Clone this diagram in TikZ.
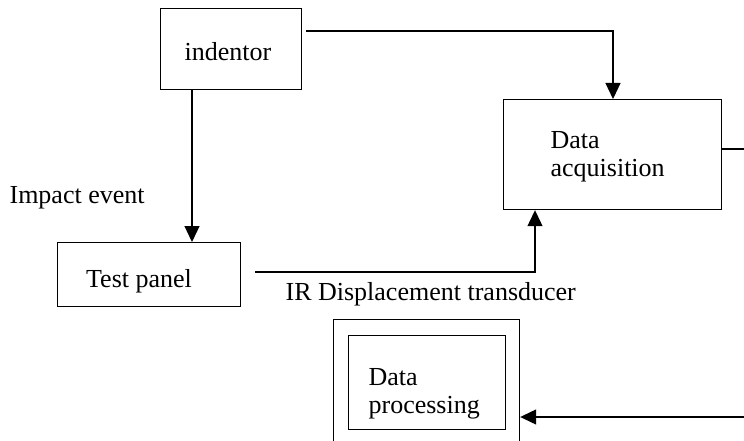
\documentclass[tikz,border=0pt]{standalone}
\usepackage{fontspec}
\setmainfont{Liberation Serif}
\usetikzlibrary{arrows.meta}
\begin{document}
\begin{tikzpicture}[x=1pt,y=-1pt,
  line width=1.2pt,
  box/.style={draw, line width=1.2pt, inner sep=0pt, anchor=north west},
  lbl/.style={font=\fontsize{26}{28}\selectfont, inner sep=0pt},
  arr/.style={-{Triangle[length=16pt,width=15pt]}}]
\useasboundingbox (0,0) rectangle (744,441);
\begin{scope}
\clip (0,0) rectangle (744,441);
% boxes
\node[box, minimum width=141pt, minimum height=81pt] (ind) at (160,8) {};
\node[lbl] at (228,52) {indentor};
\node[box, minimum width=218pt, minimum height=110pt] (acq) at (503,99) {};
\node[lbl, anchor=west, align=left] at (550,157) {Data\\acquisition};
\node[box, minimum width=183pt, minimum height=64pt] (panel) at (57,242) {};
\node[lbl] at (139,281) {Test panel};
\node[box, minimum width=186pt, minimum height=140pt] (outer) at (333,319) {};
\node[box, minimum width=157pt, minimum height=94pt] (inner) at (348,335) {};
\node[lbl, anchor=west, align=left] at (368,394) {Data\\processing};
% free labels
\node[lbl, anchor=west] (impact) at (9,198) {Impact event};
\node[lbl, anchor=west] (ir) at (285,294) {IR Displacement transducer};
% connectors
\coordinate (c1) at (306,31);
\coordinate (c2) at (255,272);
\coordinate (c3) at (744,149);
\coordinate (c4) at (744,417);
\draw[arr] (c1) -| ([xshift=110pt]acq.north west);
\draw[arr] ([xshift=32pt]ind.south west) -- ([xshift=135pt]panel.north west);
\draw[arr] (c2) -| ([xshift=32pt]acq.south west);
\draw (acq.east |- c3) -- (c3);
\draw[arr] (c4) -- (outer.east |- c4);
\end{scope}
\end{tikzpicture}
\end{document}
